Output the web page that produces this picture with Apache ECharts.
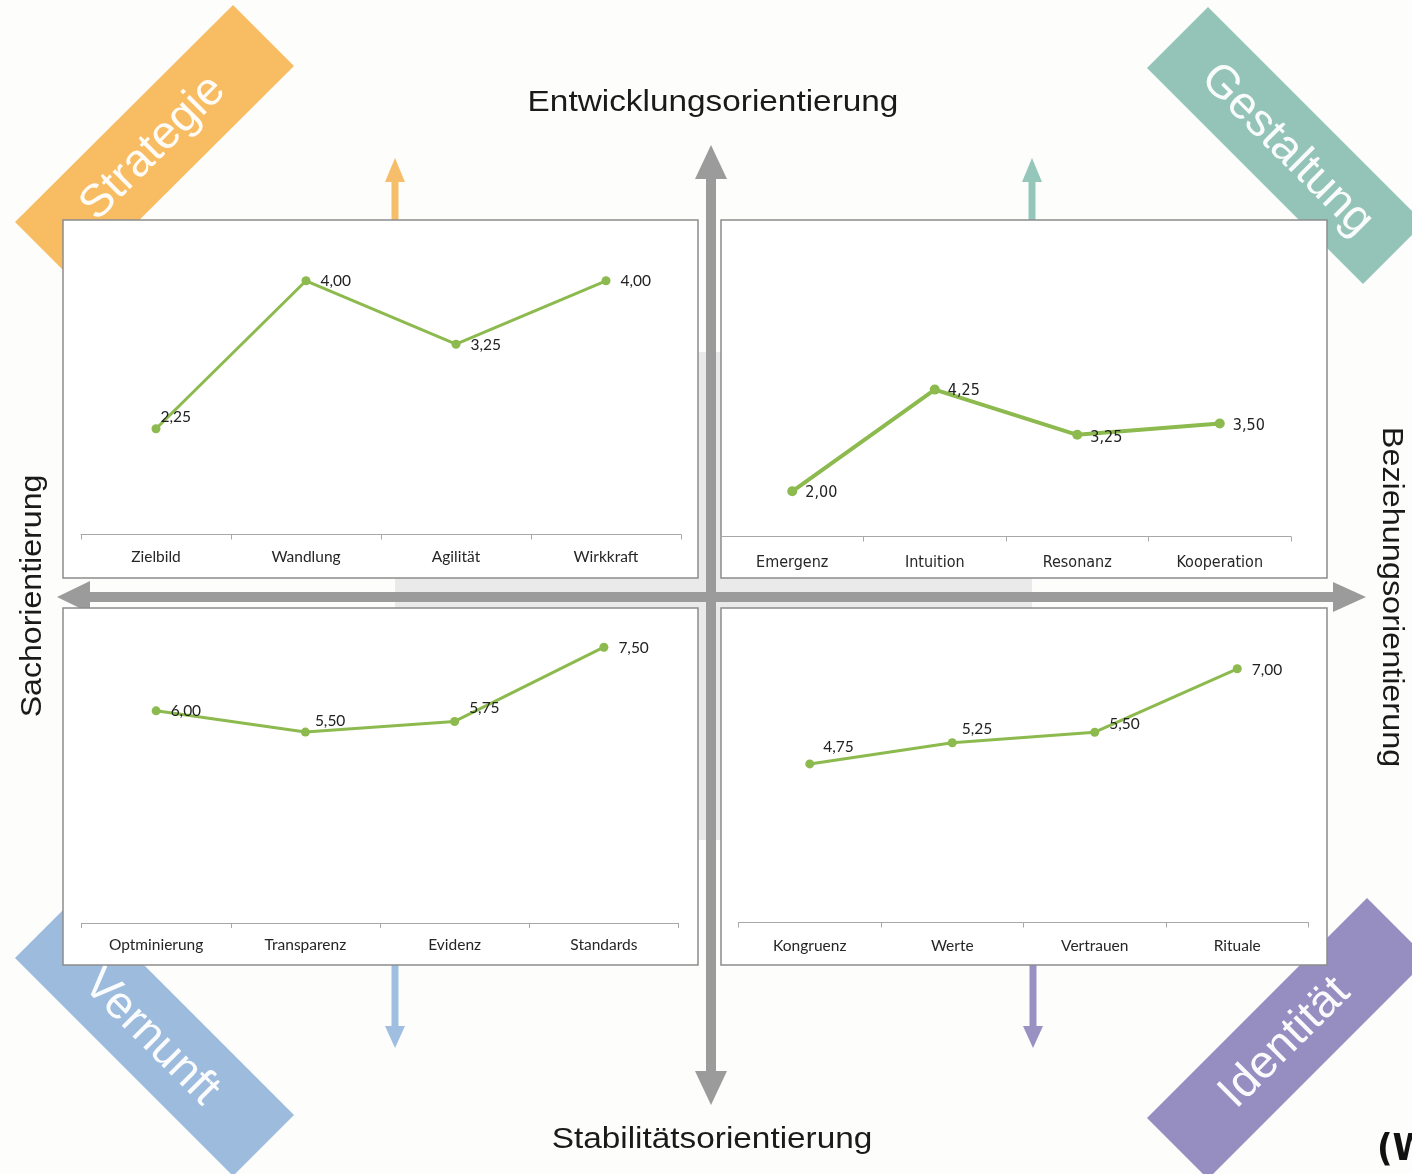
<!DOCTYPE html>
<html>
<head>
<meta charset="utf-8">
<script src="https://cdn.jsdelivr.net/npm/echarts@6/dist/echarts.min.js"></script>
<style>
html,body{margin:0;padding:0;background:#fdfdfc;}
#chart{width:1412px;height:1174px;}
</style>
</head>
<body>
<div id="chart"></div>
<script>
// ---------- data ----------
const catsStrategie = ['Zielbild', 'Wandlung', 'Agilität', 'Wirkkraft'];
const valsStrategie = [2.25, 4.00, 3.25, 4.00];
const catsGestaltung = ['Emergenz', 'Intuition', 'Resonanz', 'Kooperation'];
const valsGestaltung = [2.00, 4.25, 3.25, 3.50];
const catsVernunft = ['Optminierung', 'Transparenz', 'Evidenz', 'Standards'];
const valsVernunft = [6.00, 5.50, 5.75, 7.50];
const catsIdentitaet = ['Kongruenz', 'Werte', 'Vertrauen', 'Rituale'];
const valsIdentitaet = [4.75, 5.25, 5.50, 7.00];
const bannerLabels = ['Strategie', 'Gestaltung', 'Vernunft', 'Identität'];
const axisTitles = ['Entwicklungsorientierung', 'Stabilitätsorientierung', 'Sachorientierung', 'Beziehungsorientierung'];
const footText = '(W';

// ---------- styling ----------
const GREEN = '#8DBA4E';
const CAL = 'Lato, "Open Sans", sans-serif';
const NARROW = '"Liberation Sans Narrow", "DejaVu Sans Condensed", sans-serif';
const ARIAL = '"Liberation Sans", Arial, Helvetica, sans-serif';
// label offsets (style only)
const offsTL = [[-5, -12], [5, 0], [5, 1], [5, 0]];
const offsTR = [[3, 2], [3, 1], [3, 3], [3, 2]];
const offsBL = [[5, 0], [0, -11], [5, -13], [5, 1]];
const offsBR = [[4, -17], [0, -14], [5, -8], [5, 1]];

const panels = [
  { cats: catsStrategie, vals: valsStrategie, offs: offsTL, grid: {left: 81, top: 238.5, width: 600, height: 296}, max: 4.5, font: CAL, fs: 15.5, lfs: 15.5, margin: 14, lw: 3, ss: 9 },
  { cats: catsGestaltung, vals: valsGestaltung, offs: offsTR, grid: {left: 721, top: 265.3, width: 570, height: 271.2}, max: 7, font: NARROW, fs: 16, lfs: 16, margin: 18, lw: 4, ss: 10 },
  { cats: catsVernunft, vals: valsVernunft, offs: offsBL, grid: {left: 81.5, top: 626, width: 597, height: 297}, max: 8, font: CAL, fs: 15.5, lfs: 15.5, margin: 14, lw: 3, ss: 9 },
  { cats: catsIdentitaet, vals: valsIdentitaet, offs: offsBR, grid: {left: 738.5, top: 626.5, width: 570, height: 296}, max: 8, font: CAL, fs: 15.5, lfs: 15.5, margin: 15, lw: 3, ss: 9 }
];

function fmt(p) { return Number(p.value).toFixed(2).replace('.', ','); }

const grid = [], xAxis = [], yAxis = [], series = [];
panels.forEach((p, i) => {
  grid.push(Object.assign({containLabel: false}, p.grid));
  xAxis.push({
    gridIndex: i, type: 'category', data: p.cats, boundaryGap: true, z: 10,
    axisLine: {show: true, lineStyle: {color: '#A8A8A8', width: 1}},
    axisTick: {show: true, length: 5, lineStyle: {color: '#A8A8A8', width: 1}},
    axisLabel: {show: true, color: '#262626', fontSize: p.fs, fontFamily: p.font, margin: p.margin},
    splitLine: {show: false}
  });
  yAxis.push({gridIndex: i, type: 'value', min: 1, max: p.max, show: false, splitLine: {show: false}});
  series.push({
    type: 'line', xAxisIndex: i, yAxisIndex: i, z: 11,
    data: p.vals.map((v, j) => ({value: v, label: {offset: p.offs[j]}})),
    symbol: 'circle', symbolSize: p.ss, showAllSymbol: true,
    lineStyle: {color: GREEN, width: p.lw},
    itemStyle: {color: GREEN},
    label: {show: true, position: 'right', distance: 5, formatter: fmt, color: '#222', fontSize: p.lfs, fontFamily: p.font},
    emphasis: {disabled: true},
    clip: false
  });
});

// ---------- decorative graphics ----------
const g = [];
function poly(points, fill, z) { g.push({type: 'polygon', silent: true, z: z, shape: {points: points}, style: {fill: fill}}); }
function rect(x, y, w, h, style, z) { g.push({type: 'rect', silent: true, z: z, shape: {x: x, y: y, width: w, height: h}, style: style}); }
function text(t, x, y, font, fill, rot, sx, z) {
  g.push({type: 'text', silent: true, z: z, x: x, y: y, rotation: rot || 0, scaleX: sx || 1,
    style: {text: t, font: font, fill: fill, textAlign: 'center', textVerticalAlign: 'middle', align: 'center', verticalAlign: 'middle'}});
}

// light grey square behind the cross
rect(395, 352, 637, 488, {fill: '#EAEAEA'}, 1);

// banners
const Q = Math.PI / 4;
poly([[15, 222], [233, 5], [294, 66], [76, 283]], '#F8BD63', 2);
poly([[1147, 68], [1208, 7], [1424, 223], [1363, 284]], '#94C4B8', 2);
poly([[15, 958], [76, 897], [294, 1115], [233, 1176]], '#9DBBDD', 2);
poly([[1147, 1118], [1367, 898], [1428, 959], [1208, 1179]], '#968EC1', 2);
text(bannerLabels[0], 153, 148, '46px ' + ARIAL, 'rgba(255,255,255,0.95)', Q, 1, 3);
text(bannerLabels[1], 1287, 150, '46px ' + ARIAL, 'rgba(255,255,255,0.95)', -Q, 1, 3);
text(bannerLabels[2], 151, 1037, '46px ' + ARIAL, 'rgba(255,255,255,0.95)', -Q, 1, 3);
text(bannerLabels[3], 1285, 1043, '46px ' + ARIAL, 'rgba(255,255,255,0.95)', Q, 1, 3);

// grey main arrows
const GREY = '#9B9B9B';
rect(706, 175, 10, 900, {fill: GREY}, 3);
poly([[711, 145], [695, 179], [727, 179]], GREY, 3);
poly([[711, 1105], [695, 1071], [727, 1071]], GREY, 3);
rect(86, 592, 1250, 10, {fill: GREY}, 3);
poly([[57, 597], [90, 581], [90, 613]], GREY, 3);
poly([[1366, 597], [1333, 582], [1333, 612]], GREY, 3);

// small coloured arrows
function smallArrow(x, up, color) {
  if (up) {
    rect(x - 3.5, 178, 7, 50, {fill: color}, 3);
    poly([[x, 158], [x - 10, 182], [x + 10, 182]], color, 3);
  } else {
    rect(x - 3.5, 955, 7, 73, {fill: color}, 3);
    poly([[x, 1048], [x - 10, 1026], [x + 10, 1026]], color, 3);
  }
}
smallArrow(395, true, '#F6BE6A');
smallArrow(1032, true, '#95C6BA');
smallArrow(395, false, '#A0BEE0');
smallArrow(1033, false, '#9891C2');

// panels
const pStyle = {fill: '#FFFFFF', stroke: '#8C8C8C', lineWidth: 1.5};
rect(63, 220, 635, 358, pStyle, 4);
rect(721, 220, 606, 358, pStyle, 4);
rect(63, 608, 635, 357, pStyle, 4);
rect(721, 608, 606, 357, pStyle, 4);

// axis titles
text(axisTitles[0], 713, 103, '29px ' + ARIAL, '#1A1A1A', 0, 1.15, 5);
text(axisTitles[1], 712, 1140, '29px ' + ARIAL, '#1A1A1A', 0, 1.15, 5);
text(axisTitles[2], 33, 596, '30px ' + ARIAL, '#1A1A1A', Math.PI / 2, 1.07, 5);
text(axisTitles[3], 1391, 597, '30px ' + ARIAL, '#1A1A1A', -Math.PI / 2, 1.08, 5);
g.push({type: 'text', silent: true, z: 5, x: 1377, y: 1150,
  style: {text: footText, font: 'bold 38px ' + NARROW, fill: '#111', textAlign: 'left', textVerticalAlign: 'middle', align: 'left', verticalAlign: 'middle'}});

const chart = echarts.init(document.getElementById('chart'), null, {renderer: 'canvas'});
chart.setOption({
  animation: false,
  backgroundColor: '#FDFDFC',
  graphic: {elements: g},
  grid: grid,
  xAxis: xAxis,
  yAxis: yAxis,
  series: series
});
</script>
</body>
</html>
